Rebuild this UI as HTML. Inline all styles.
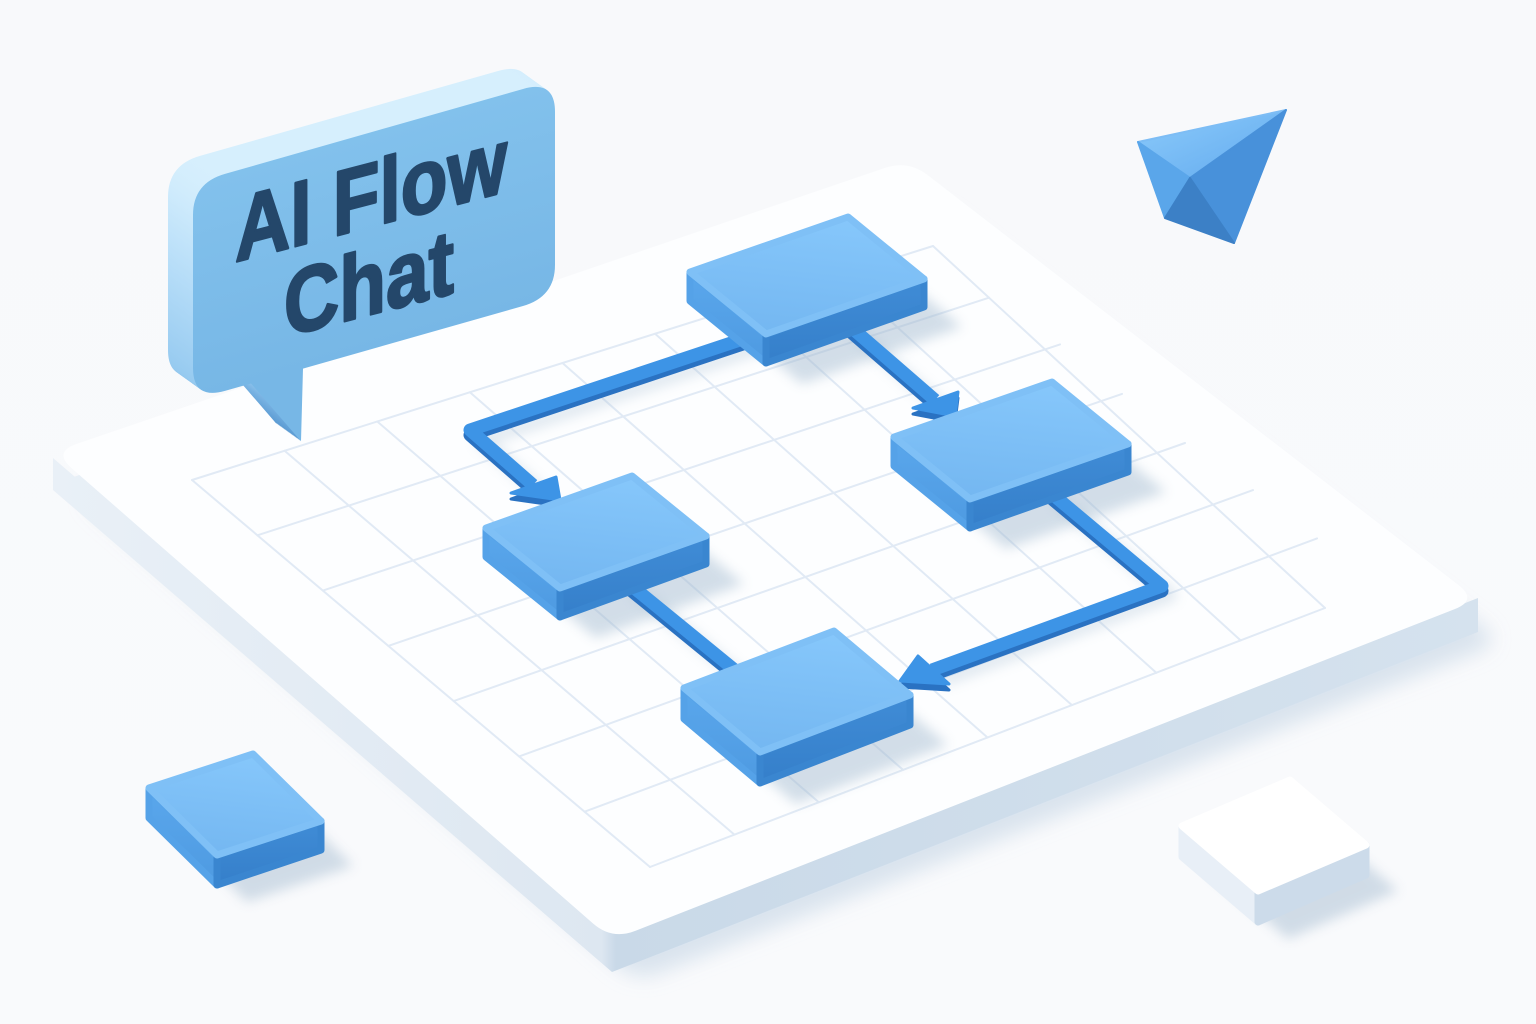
<!DOCTYPE html>
<html><head><meta charset="utf-8">
<style>html,body{margin:0;padding:0;background:#f8f9fb}svg{display:block}</style>
</head>
<body>
<svg xmlns="http://www.w3.org/2000/svg" xmlns:xlink="http://www.w3.org/1999/xlink" width="1536" height="1024" viewBox="0 0 1536 1024">
<defs>
<filter id="b10" x="-20%" y="-20%" width="140%" height="140%"><feGaussianBlur stdDeviation="10"/></filter>
<filter id="b6" x="-30%" y="-30%" width="160%" height="160%"><feGaussianBlur stdDeviation="6"/></filter>
<linearGradient id="bg" x1="0" y1="0" x2="0" y2="1"><stop offset="0" stop-color="#f8f9fb"/><stop offset="1" stop-color="#f9fafc"/></linearGradient>
<linearGradient id="side" gradientUnits="userSpaceOnUse" x1="53" y1="0" x2="1478" y2="0">
<stop offset="0" stop-color="#e9f0f7"/><stop offset="0.385" stop-color="#dde7f1"/><stop offset="0.395" stop-color="#c9d9e8"/><stop offset="1" stop-color="#d5e2ee"/></linearGradient>
<linearGradient id="top" x1="0.6" y1="0" x2="0.4" y2="1"><stop offset="0" stop-color="#86c7fb"/><stop offset="1" stop-color="#74b7f1"/></linearGradient>
<linearGradient id="lf" x1="0" y1="0" x2="0" y2="1"><stop offset="0" stop-color="#5aa7ec"/><stop offset="1" stop-color="#4e9ae1"/></linearGradient>
<linearGradient id="rf" x1="0" y1="0" x2="0" y2="1"><stop offset="0" stop-color="#408cd6"/><stop offset="1" stop-color="#357fca"/></linearGradient>
<linearGradient id="bs" gradientUnits="userSpaceOnUse" x1="0" y1="0" x2="0" y2="290">
<stop offset="0" stop-color="#d6effd"/><stop offset="0.35" stop-color="#b6ddf8"/><stop offset="0.7" stop-color="#96caf0"/><stop offset="0.82" stop-color="#79b3e3"/><stop offset="1" stop-color="#5b9bd3"/></linearGradient>
<linearGradient id="bf" gradientUnits="userSpaceOnUse" x1="0" y1="0" x2="0" y2="217">
<stop offset="0" stop-color="#82c1ec"/><stop offset="1" stop-color="#77b7e6"/></linearGradient>
<linearGradient id="pyr" x1="0" y1="0" x2="1" y2="1"><stop offset="0" stop-color="#8ccbfb"/><stop offset="1" stop-color="#62aaee"/></linearGradient>
<path id="bub" d="M 32 0 L 330 0 Q 362 0 362 32 L 362 185 Q 362 217 330 217 L 110 217 L 108 289 L 58 217 L 32 217 Q 0 217 0 185 L 0 32 Q 0 0 32 0 Z"/>
<path id="plat" d="M 76.7 443.9 L 884.4 168.1 Q 908 160 927.8 175.3 L 1458.2 584.7 Q 1478 600 1454.7 609.1 L 635.3 930.9 Q 612 940 593.2 923.6 L 71.8 468.4 Q 53 452 76.7 443.9 Z"/>
</defs>

<rect width="1536" height="1024" fill="url(#bg)"/>

<!-- platform -->
<use href="#plat" transform="translate(24,42)" fill="#d6e1ec" filter="url(#b10)" opacity="0.9"/>
<use href="#plat" transform="translate(0,32)" fill="url(#side)"/>
<polygon points="53,458 53,490 612,972 1478,632 1478,598 612,938" fill="url(#side)"/>
<use href="#plat" fill="#fdfeff"/>

<!-- grid -->
<g stroke="#e1eaf5" stroke-width="2" fill="none" stroke-linecap="round">
<line x1="192" y1="480" x2="650" y2="867"/>
<line x1="284.6" y1="450.8" x2="734.4" y2="834.6"/>
<line x1="377.3" y1="421.5" x2="818.8" y2="802.3"/>
<line x1="469.9" y1="392.3" x2="903.1" y2="769.9"/>
<line x1="562.5" y1="363" x2="987.5" y2="737.5"/>
<line x1="655.1" y1="333.8" x2="1071.9" y2="705.1"/>
<line x1="747.8" y1="304.5" x2="1156.3" y2="672.8"/>
<line x1="840.4" y1="275.3" x2="1240.6" y2="640.4"/>
<line x1="933" y1="246" x2="1325" y2="608"/>
<line x1="192" y1="480" x2="933" y2="246"/>
<line x1="257.4" y1="535.3" x2="989" y2="297.7"/>
<line x1="322.9" y1="590.6" x2="1060" y2="344.4"/>
<line x1="388.3" y1="645.9" x2="1122" y2="393.9"/>
<line x1="453.7" y1="701.1" x2="1185" y2="443"/>
<line x1="519.1" y1="756.4" x2="1253" y2="490.1"/>
<line x1="584.6" y1="811.7" x2="1317" y2="538.4"/>
<line x1="650" y1="867" x2="1325" y2="608"/>
</g>

<!-- shadows -->
<g fill="#9fb7cd" opacity="0.45" filter="url(#b6)">
<polygon points="724,320 884,263 962,327 802,384"/>
<polygon points="928,485 1088,428 1166,492 1006,549"/>
<polygon points="520,576 668,522 744,584 596,638"/>
<polygon points="718,738 870,679 948,745 796,804"/>
<polygon points="177,833 283,797 353,866 247,902"/>
<polygon points="1210,872 1320,824 1398,891 1288,939"/>
</g>
<g fill="none" stroke="#9fb7cd" stroke-width="14" opacity="0.3" filter="url(#b6)" stroke-linejoin="round">
<polyline points="762,346 482,440 543,495"/>
<polyline points="855,332 945,410"/>
<polyline points="1055,498 1170,595 942,680"/>
<polyline points="632,588 752,686"/>
</g>

<!-- connectors -->
<g fill="none" stroke-linejoin="round" stroke-width="13">
<g stroke="#2a72c2" transform="translate(0,5)">
<polyline points="752,336 470,430 533,485"/>
<polyline points="845,322 935,400"/>
<polyline points="1045,488 1162,586 932,670"/>
<polyline points="622,578 742,676"/>
</g>
<g stroke="#3d94e6">
<polyline points="752,336 470,430 533,485"/>
<polyline points="845,322 935,400"/>
<polyline points="1045,488 1162,586 932,670"/>
<polyline points="622,578 742,676"/>
</g>
</g>
<g stroke-linejoin="round" stroke-width="3">
<g fill="#2a72c2" stroke="#2a72c2" transform="translate(0,6)">
<polygon points="511,493 556,477 560,500"/>
<polygon points="913,408 958,392 955,416"/>
<polygon points="918,656 949,684 900,681"/>
</g>
<g fill="#3d94e6" stroke="#3d94e6">
<polygon points="511,493 556,477 560,500"/>
<polygon points="913,408 958,392 955,416"/>
<polygon points="918,656 949,684 900,681"/>
</g>
</g>

<!-- boxes -->
<g stroke-linejoin="round" stroke-width="7">
<!-- box1 -->
<polygon points="690,273 766,335 766,363 690,301" fill="url(#lf)" stroke="#55a2e8"/>
<polygon points="766,335 924,279 924,307 766,363" fill="url(#rf)" stroke="#3a86d0"/>
<polygon points="690,272 848,217 924,279 766,334" fill="url(#top)" stroke="#7fc0f6"/>
<!-- box2 -->
<polygon points="894,438 970,500 970,528 894,466" fill="url(#lf)" stroke="#55a2e8"/>
<polygon points="970,500 1128,444 1128,472 970,528" fill="url(#rf)" stroke="#3a86d0"/>
<polygon points="894,437 1052,382 1128,444 970,499" fill="url(#top)" stroke="#7fc0f6"/>
<!-- box3 -->
<polygon points="486,529 560,589 560,617 486,557" fill="url(#lf)" stroke="#55a2e8"/>
<polygon points="560,589 706,536 706,564 560,617" fill="url(#rf)" stroke="#3a86d0"/>
<polygon points="486,528 632,476 706,536 560,588" fill="url(#top)" stroke="#7fc0f6"/>
<!-- box4 -->
<polygon points="684,689 760,753 760,783 684,719" fill="url(#lf)" stroke="#55a2e8"/>
<polygon points="760,753 910,695 910,725 760,783" fill="url(#rf)" stroke="#3a86d0"/>
<polygon points="684,688 834,631 910,695 760,752" fill="url(#top)" stroke="#7fc0f6"/>
<!-- small blue cube -->
<polygon points="149,789 217,856 217,885 149,818" fill="url(#lf)" stroke="#55a2e8"/>
<polygon points="217,856 321,821 321,850 217,885" fill="url(#rf)" stroke="#3a86d0"/>
<polygon points="149,788 253,754 321,821 217,855" fill="url(#top)" stroke="#7fc0f6"/>
<!-- white cube -->
<polygon points="1182,827 1258,892 1258,922 1182,857" fill="#e8eff7" stroke="#e8eff7"/>
<polygon points="1258,892 1366,845 1366,875 1258,922" fill="#ccdbea" stroke="#ccdbea"/>
<polygon points="1182,826 1290,780 1366,845 1258,891" fill="#ffffff" stroke="#ffffff"/>
</g>

<!-- pyramid -->
<g stroke-linejoin="round" stroke-width="2">
<polygon points="1138,142 1286,110 1190,178" fill="url(#pyr)" stroke="#7dbdf5"/>
<polygon points="1138,142 1190,178 1165,218" fill="#5aa6ea" stroke="#5aa6ea"/>
<polygon points="1190,178 1286,110 1234,243" fill="#4891da" stroke="#4891da"/>
<polygon points="1190,178 1165,218 1234,243" fill="#3c80c6" stroke="#3c80c6"/>
</g>

<!-- speech bubble -->
<g fill="url(#bs)">
<use href="#bub" transform="matrix(1,-0.285,0,1,168,165)"/>
<use href="#bub" transform="matrix(1,-0.285,0,1,169,165.72)"/>
<use href="#bub" transform="matrix(1,-0.285,0,1,170,166.44)"/>
<use href="#bub" transform="matrix(1,-0.285,0,1,171,167.16)"/>
<use href="#bub" transform="matrix(1,-0.285,0,1,172,167.88)"/>
<use href="#bub" transform="matrix(1,-0.285,0,1,173,168.6)"/>
<use href="#bub" transform="matrix(1,-0.285,0,1,174,169.32)"/>
<use href="#bub" transform="matrix(1,-0.285,0,1,175,170.04)"/>
<use href="#bub" transform="matrix(1,-0.285,0,1,176,170.76)"/>
<use href="#bub" transform="matrix(1,-0.285,0,1,177,171.48)"/>
<use href="#bub" transform="matrix(1,-0.285,0,1,178,172.2)"/>
<use href="#bub" transform="matrix(1,-0.285,0,1,179,172.92)"/>
<use href="#bub" transform="matrix(1,-0.285,0,1,180,173.64)"/>
<use href="#bub" transform="matrix(1,-0.285,0,1,181,174.36)"/>
<use href="#bub" transform="matrix(1,-0.285,0,1,182,175.08)"/>
<use href="#bub" transform="matrix(1,-0.285,0,1,183,175.8)"/>
<use href="#bub" transform="matrix(1,-0.285,0,1,184,176.52)"/>
<use href="#bub" transform="matrix(1,-0.285,0,1,185,177.24)"/>
<use href="#bub" transform="matrix(1,-0.285,0,1,186,177.96)"/>
<use href="#bub" transform="matrix(1,-0.285,0,1,187,178.68)"/>
<use href="#bub" transform="matrix(1,-0.285,0,1,188,179.4)"/>
<use href="#bub" transform="matrix(1,-0.285,0,1,189,180.12)"/>
<use href="#bub" transform="matrix(1,-0.285,0,1,190,180.84)"/>
<use href="#bub" transform="matrix(1,-0.285,0,1,191,181.56)"/>
<use href="#bub" transform="matrix(1,-0.285,0,1,192,182.28)"/>
</g>
<use href="#bub" transform="matrix(1,-0.285,0,1,193,183)" fill="url(#bf)"/>

<g font-family="'Liberation Sans', Arial, sans-serif" font-weight="700" font-size="92" fill="#24476a" stroke="#24476a" stroke-width="2.5" stroke-linejoin="round">
<text transform="matrix(1,-0.26,0,1,235,262)" textLength="272" lengthAdjust="spacingAndGlyphs">AI Flow</text>
<text transform="matrix(1,-0.26,0,1,284,337)" textLength="170" lengthAdjust="spacingAndGlyphs">Chat</text>
</g>
</svg>
</body></html>
